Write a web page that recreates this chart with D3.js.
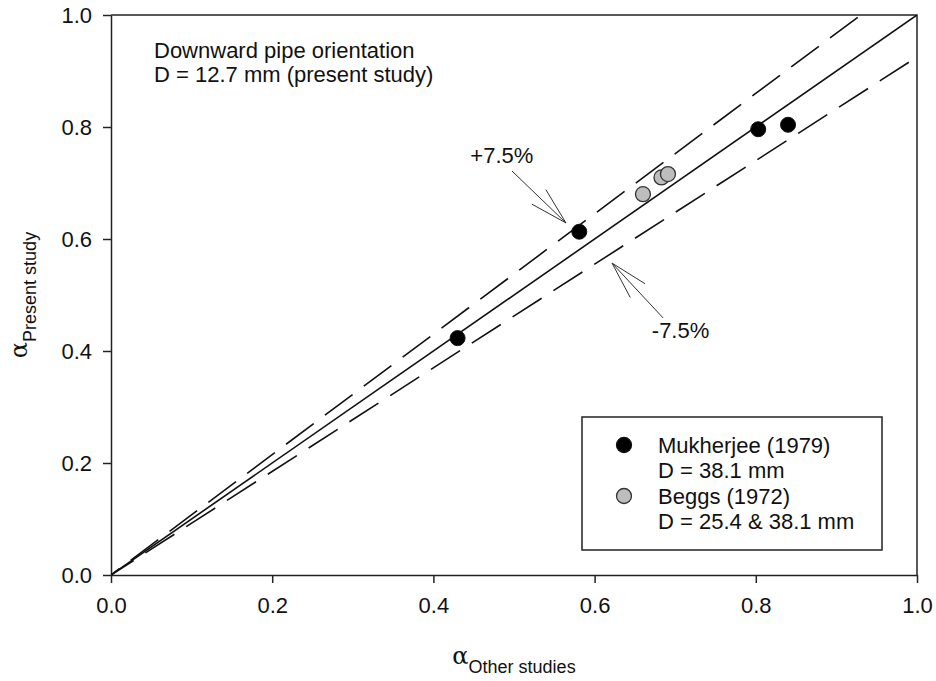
<!DOCTYPE html>
<html>
<head>
<meta charset="utf-8">
<script src="https://cdn.jsdelivr.net/npm/d3@7"></script>
<style>
  body { margin: 0; background: #fff; }
  text { font-family: "Liberation Sans", Arial, sans-serif; fill: #111; }
  .axis path, .axis line { stroke: #222; stroke-width: 1.5; }
  .axis text { font-size: 22px; fill: #111; }
</style>
</head>
<body>
<div id="chart"></div>
<script>

// Data.
const mukX = [0.430, 0.581, 0.803, 0.840],
      mukY = [0.423, 0.613, 0.796, 0.804];
const beggsX = [0.660, 0.683, 0.691],
      beggsY = [0.680, 0.710, 0.716];

// Parity line and +/- 7.5% band.
const slopes = [1, 1.075, 0.925];
const ticks = [0, 0.2, 0.4, 0.6, 0.8, 1.0];

const legendNames = ["Mukherjee (1979)", "Beggs (1972)"];
const legendSub = ["D = 38.1 mm", "D = 25.4 & 38.1 mm"];
const noteLines = ["Downward pipe orientation", "D = 12.7 mm (present study)"];


// Dimensions of chart.
let margin = { top: 15, right: 19, bottom: 106, left: 111 },
    width = 936 - margin.left - margin.right,
    height = 681 - margin.top - margin.bottom;

let svg = d3.select("#chart").append("svg")
    .attr("width", 936)
    .attr("height", 681);

let g = svg.append("g")
    .attr("transform", "translate(" + margin.left + "," + margin.top + ")");

// Scales
let x = d3.scaleLinear().domain([0, 1]).range([0, width]);
let y = d3.scaleLinear().domain([0, 1]).range([height, 0]);

svg.append("clipPath").attr("id", "plotclip")
  .append("rect")
    .attr("width", width).attr("height", height);


// Axes
g.append("g")
    .attr("class", "axis")
    .attr("transform", "translate(0," + height + ")")
    .call(d3.axisBottom(x).tickValues(ticks).tickFormat(d3.format(".1f"))
        .tickSize(8).tickPadding(14).tickSizeOuter(0));

g.append("g")
    .attr("class", "axis")
    .call(d3.axisLeft(y).tickValues(ticks).tickFormat(d3.format(".1f"))
        .tickSize(8).tickPadding(11).tickSizeOuter(0));

// top + right frame
g.append("path")
    .attr("d", "M0,0H" + width + "V" + height)
    .attr("fill", "none")
    .attr("stroke", "#222")
    .attr("stroke-width", 1.5);


// Reference lines
const line = d3.line().x(d => x(d[0])).y(d => y(d[1]));
const dashOffset = { 1: 0, 1.075: 24, 0.925: 7.6 };

g.append("g")
    .attr("clip-path", "url(#plotclip)")
  .selectAll("path")
  .data(slopes)
  .join("path")
    .attr("d", s => line([[0, 0], [1, s]]))
    .attr("fill", "none")
    .attr("stroke", "#111")
    .attr("stroke-width", 1.6)
    .attr("stroke-dasharray", s => s === 1 ? null : "34.5,14")
    .attr("stroke-dashoffset", s => dashOffset[s]);


// Points
g.append("g")
  .selectAll("circle")
  .data(d3.zip(mukX, mukY))
  .join("circle")
    .attr("cx", d => x(d[0]))
    .attr("cy", d => y(d[1]))
    .attr("r", 7.5)
    .attr("fill", "#000")
    .attr("stroke", "#111");

g.append("g")
  .selectAll("circle")
  .data(d3.zip(beggsX, beggsY))
  .join("circle")
    .attr("cx", d => x(d[0]))
    .attr("cy", d => y(d[1]))
    .attr("r", 7.5)
    .attr("fill", "#bdbdbd")
    .attr("stroke", "#333")
    .attr("stroke-width", 1.3);


// Arrows (tail, tip in data units)
const arrows = [
  { tail: [0.4975, 0.7214], tip: [0.5645, 0.6286], label: "+7.5%", lx: 0.524, ly: 0.735, anchor: "end" },
  { tail: [0.685, 0.459], tip: [0.6216, 0.557], label: "-7.5%", lx: 0.671, ly: 0.423, anchor: "start" }
];

arrows.forEach(a => {
  const x0 = x(a.tail[0]), y0 = y(a.tail[1]),
        x1 = x(a.tip[0]), y1 = y(a.tip[1]);
  const ang = Math.atan2(y0 - y1, x0 - x1),
        hl = 39, ha = 15 * Math.PI / 180;
  const p = d3.path();
  p.moveTo(x0, y0); p.lineTo(x1, y1);
  p.moveTo(x1 + hl * Math.cos(ang - ha), y1 + hl * Math.sin(ang - ha));
  p.lineTo(x1, y1);
  p.lineTo(x1 + hl * Math.cos(ang + ha), y1 + hl * Math.sin(ang + ha));
  g.append("path")
      .attr("d", p.toString())
      .attr("fill", "none")
      .attr("stroke", "#333")
      .attr("stroke-width", 1);
  g.append("text")
      .attr("x", x(a.lx))
      .attr("y", y(a.ly))
      .attr("text-anchor", a.anchor)
      .style("font-size", "22px")
      .text(a.label);
});


// Note at top left
g.append("g")
  .selectAll("text")
  .data(noteLines)
  .join("text")
    .attr("x", 43)
    .attr("y", (d, i) => 43 + i * 24)
    .style("font-size", "22px")
    .text(d => d);


// Legend
let legend = g.append("g")
    .attr("transform", "translate(" + (582 - margin.left) + "," + (417 - margin.top) + ")");
legend.append("rect")
    .attr("width", 300)
    .attr("height", 133)
    .attr("fill", "#fff")
    .attr("stroke", "#222")
    .attr("stroke-width", 1.5);

const legColors = [["#000", "#111"], ["#bdbdbd", "#333"]];
legendNames.forEach((name, i) => {
  let row = legend.append("g").attr("transform", "translate(0," + (i * 51) + ")");
  row.append("circle")
      .attr("cx", 42).attr("cy", 28)
      .attr("r", 7.5)
      .attr("fill", legColors[i][0])
      .attr("stroke", legColors[i][1])
      .attr("stroke-width", 1.3);
  row.append("text")
      .attr("x", 76).attr("y", 36)
      .style("font-size", "22px")
      .text(name);
  row.append("text")
      .attr("x", 76).attr("y", 61)
      .style("font-size", "22px")
      .text(legendSub[i]);
});


// Axis titles
let xt = svg.append("text")
    .attr("x", margin.left + width / 2)
    .attr("y", 664)
    .attr("text-anchor", "middle");
xt.append("tspan")
    .style("font-family", "'DejaVu Serif', serif")
    .style("font-size", "24px")
    .text("α");
xt.append("tspan")
    .attr("dy", 9)
    .style("font-size", "18px")
    .text("Other studies");

let yt = svg.append("text")
    .attr("transform", "translate(27," + (margin.top + height / 2) + ") rotate(-90)")
    .attr("text-anchor", "middle");
yt.append("tspan")
    .style("font-family", "'DejaVu Serif', serif")
    .style("font-size", "24px")
    .text("α");
yt.append("tspan")
    .attr("dy", 9)
    .style("font-size", "18px")
    .text("Present study");

</script>
</body>
</html>
